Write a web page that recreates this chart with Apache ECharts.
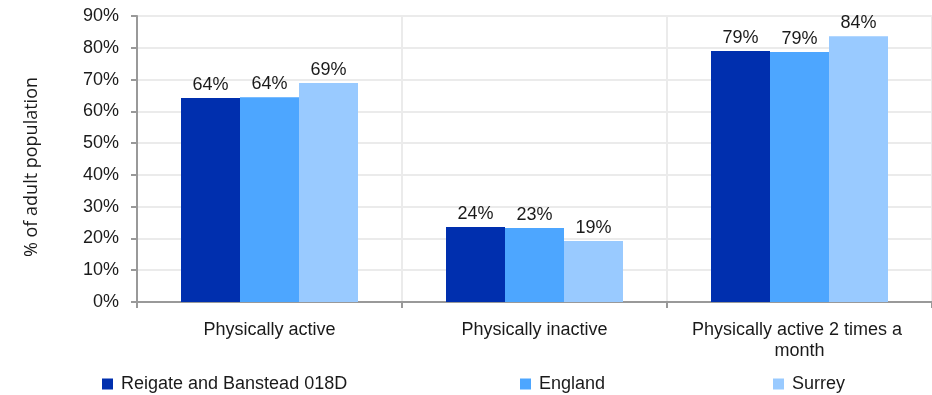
<!DOCTYPE html>
<html>
<head>
<meta charset="utf-8">
<script src="https://cdn.jsdelivr.net/npm/echarts@6/dist/echarts.min.js"></script>
<style>
  html, body { margin: 0; padding: 0; background: #fff; }
  #chart { width: 932px; height: 395px; }
</style>
</head>
<body>
<div id="chart"></div>
<script>
const categories = ['Physically active', 'Physically inactive', 'Physically active 2 times a month']
const seriesNames = ['Reigate and Banstead 018D', 'England', 'Surrey']
const reigate = [64.2, 23.6, 79.0]
const england = [64.4, 23.3, 78.7]
const surrey = [68.9, 19.2, 83.6]
const yTicks = [0, 10, 20, 30, 40, 50, 60, 70, 80, 90]

const colors = ['#002fae', '#4da6ff', '#99caff']
const font = 'Liberation Sans, Arial, sans-serif'

const chart = echarts.init(document.getElementById('chart'))

const barSeries = (name, data, color) => ({
  name,
  type: 'bar',
  data,
  barWidth: 59,
  barGap: '0%',
  itemStyle: { color },
  label: {
    show: true,
    position: 'top',
    distance: 4,
    formatter: (p) => Math.round(p.value) + '%',
    color: '#1a1a1a',
    fontFamily: font,
    fontSize: 18
  }
})

const legendAt = (name, left) => ({
  data: [name],
  left,
  top: 375,
  padding: 0,
  itemWidth: 11,
  itemHeight: 11,
  icon: 'rect',
  itemGap: 8,
  textStyle: { color: '#1a1a1a', fontFamily: font, fontSize: 18, padding: [0, 0, 0, 3] }
})

chart.setOption({
  backgroundColor: '#fff',
  animation: false,
  color: colors,
  grid: { left: 137, right: -3, top: 16, bottom: 93, containLabel: false },
  legend: [
    legendAt(seriesNames[0], 102),
    legendAt(seriesNames[1], 520),
    legendAt(seriesNames[2], 773)
  ],
  xAxis: {
    type: 'category',
    data: categories,
    axisLine: { lineStyle: { color: '#999', width: 2 } },
    axisTick: { show: true, length: 6, lineStyle: { color: '#999', width: 2 } },
    splitLine: { show: true, lineStyle: { color: '#ebebeb', width: 2 } },
    axisLabel: {
      color: '#1a1a1a',
      fontFamily: font,
      fontSize: 18,
      margin: 18,
      lineHeight: 21,
      width: 250,
      overflow: 'break',
      interval: 0
    }
  },
  yAxis: {
    type: 'value',
    min: 0,
    max: 90,
    interval: 10,
    name: '% of adult population',
    nameLocation: 'middle',
    nameGap: 96,
    nameTextStyle: {
      color: '#1a1a1a',
      fontFamily: 'Open Sans, sans-serif',
      fontSize: 18,
      padding: [0, 16, 0, 0]
    },
    axisLine: { show: true, lineStyle: { color: '#999', width: 2 } },
    axisTick: { show: true, length: 6, lineStyle: { color: '#999', width: 2 } },
    splitLine: { show: true, lineStyle: { color: '#ebebeb', width: 2 } },
    axisLabel: {
      color: '#1a1a1a',
      fontFamily: font,
      fontSize: 18,
      margin: 18,
      formatter: (v) => yTicks.includes(v) ? v + '%' : ''
    }
  },
  series: [
    barSeries(seriesNames[0], reigate, colors[0]),
    barSeries(seriesNames[1], england, colors[1]),
    barSeries(seriesNames[2], surrey, colors[2])
  ]
})
</script>
</body>
</html>
